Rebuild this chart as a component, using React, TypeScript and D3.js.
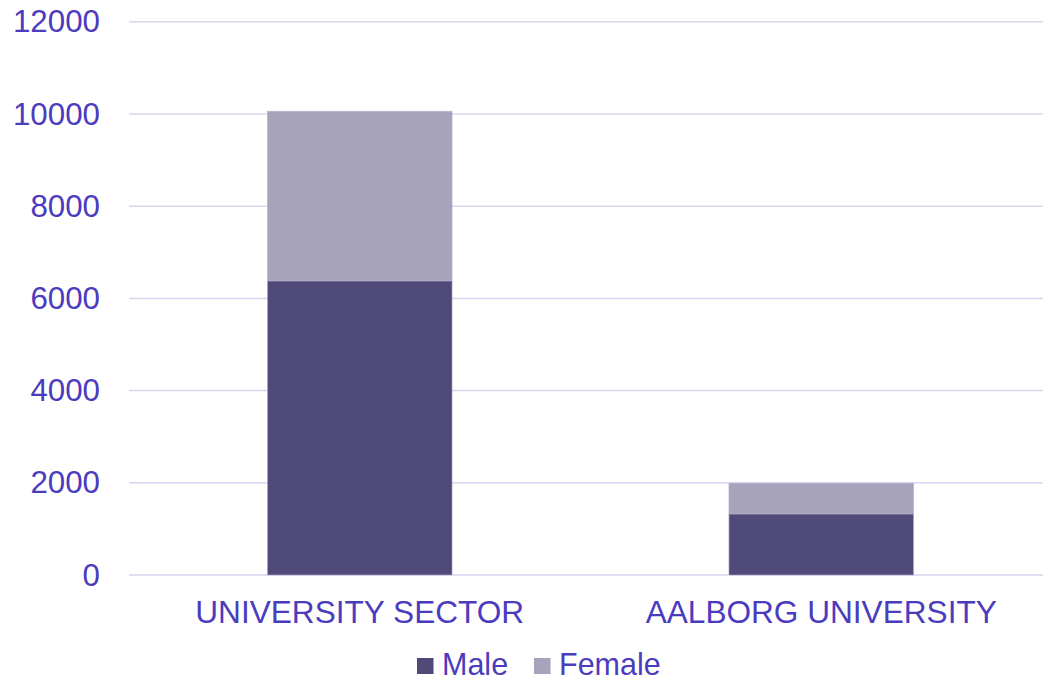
import React, { useEffect, useRef } from "react";
import * as d3 from "d3";

const categories = ["UNIVERSITY SECTOR", "AALBORG UNIVERSITY"];
const seriesNames = ["Male", "Female"];
const male = [6380, 1325];
const female = [3680, 665];
const yTicks = [0, 2000, 4000, 6000, 8000, 10000, 12000];

const colors = ["#4F4A77", "#A7A3BA"];
const textColor = "#4B3CBE";

export default function App() {
  const ref = useRef<SVGSVGElement>(null);

  useEffect(() => {
    const width = 1043,
      height = 681;
    const svg = d3.select(ref.current);
    svg.selectAll("*").remove();
    svg.attr("width", width).attr("height", height);

    const font = "'Liberation Sans', Arial, sans-serif";

    const x = d3
      .scaleBand()
      .domain(categories)
      .range([129, 1052])
      .paddingInner(0.6)
      .paddingOuter(0.3);
    const y = d3.scaleLinear().domain([0, 12000]).range([575, 21.8]);

    // gridlines
    svg
      .append("g")
      .selectAll("line")
      .data(yTicks)
      .enter()
      .append("line")
      .attr("x1", 129)
      .attr("x2", 1052)
      .attr("y1", (d) => y(d))
      .attr("y2", (d) => y(d))
      .attr("stroke", "#D9D4F0")
      .attr("stroke-width", 1.5);

    // tick labels
    svg
      .append("g")
      .selectAll("text")
      .data(yTicks)
      .enter()
      .append("text")
      .attr("x", 100)
      .attr("y", (d) => y(d) + 10.5)
      .attr("text-anchor", "end")
      .attr("font-family", font)
      .attr("font-size", 31.3)
      .attr("fill", textColor)
      .text((d) => String(d));

    // stacked bars
    const rows = categories.map((c, i) => ({ cat: c, Male: male[i], Female: female[i] }));
    const stacked = d3.stack<any>().keys(seriesNames)(rows);

    stacked.forEach((layer, li) => {
      svg
        .append("g")
        .selectAll("rect")
        .data(layer)
        .enter()
        .append("rect")
        .attr("x", (d: any) => x(d.data.cat)!)
        .attr("width", x.bandwidth())
        .attr("y", (d) => y(d[1]))
        .attr("height", (d) => y(d[0]) - y(d[1]))
        .attr("fill", colors[li])
        .attr("stroke", "#B4AFCB")
        .attr("stroke-width", 0.6);
    });

    // category labels
    svg
      .append("g")
      .selectAll("text")
      .data(categories)
      .enter()
      .append("text")
      .attr("x", (d) => x(d)! + x.bandwidth() / 2)
      .attr("y", 623)
      .attr("text-anchor", "middle")
      .attr("font-family", font)
      .attr("font-size", 31.6)
      .attr("fill", textColor)
      .text((d) => d);

    // legend
    const legendX = [417, 534];
    const lg = svg
      .append("g")
      .selectAll("g")
      .data(seriesNames)
      .enter()
      .append("g")
      .attr("transform", (_d, i) => `translate(${legendX[i]},0)`);
    lg.append("rect")
      .attr("x", 0)
      .attr("y", 658)
      .attr("width", 16.5)
      .attr("height", 16)
      .attr("fill", (_d, i) => colors[i]);
    lg.append("text")
      .attr("x", 25)
      .attr("y", 674.5)
      .attr("font-family", font)
      .attr("font-size", 30.5)
      .attr("fill", textColor)
      .text((d) => d);
  }, []);

  return (
    <svg
      ref={ref}
      style={{ position: "absolute", left: 0, top: 0, display: "block", background: "#fff" }}
    ></svg>
  );
}
